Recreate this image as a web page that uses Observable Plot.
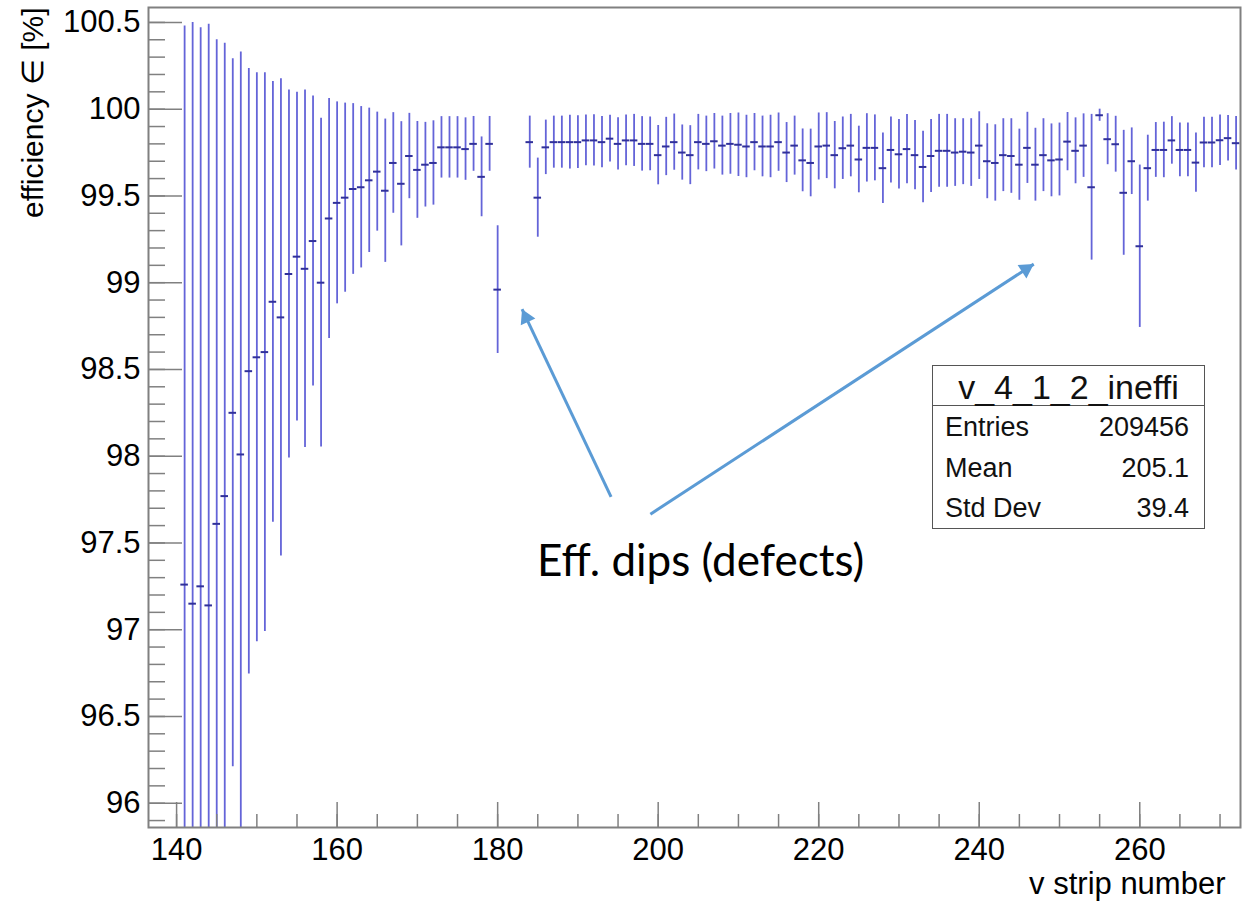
<!DOCTYPE html>
<html><head><meta charset="utf-8">
<script src="https://cdn.jsdelivr.net/npm/d3@7"></script>
<script src="https://cdn.jsdelivr.net/npm/@observablehq/plot@0.6"></script>
<style>
body{margin:0;background:#fff;}
#wrap{position:relative;width:1255px;height:907px;overflow:hidden;background:#fff;}
#stats{position:absolute;left:932px;top:365px;width:273px;height:164px;box-sizing:border-box;border:1.5px solid #555;background:#fff;font-family:"Liberation Sans",Arial,sans-serif;color:#111;}
#stats .hdr{position:absolute;left:0;right:0;top:0;height:39px;border-bottom:1.5px solid #555;text-align:center;font-size:34px;line-height:34px;}
#stats .hdr span{position:relative;top:4px;}
#stats .row{position:absolute;left:12px;right:15px;font-size:27px;line-height:27px;display:flex;justify-content:space-between;}
</style></head>
<body><div id="wrap"></div>
<script>
// ---- data ----
const strips = [141,142,143,144,145,146,147,148,149,150,151,152,153,154,155,156,157,158,159,160,
161,162,163,164,165,166,167,168,169,170,171,172,173,174,175,176,177,178,179,180,
184,185,186,187,188,189,190,191,192,193,194,195,196,197,198,199,200,
201,202,203,204,205,206,207,208,209,210,211,212,213,214,215,216,217,218,219,220,
221,222,223,224,225,226,227,228,229,230,231,232,233,234,235,236,237,238,239,240,
241,242,243,244,245,246,247,248,249,250,251,252,253,254,255,256,257,258,259,260,
261,262,263,264,265,266,267,268,269,270,271,272];
const efficiency = [97.26,97.15,97.25,97.14,97.61,97.77,98.25,98.01,98.49,98.57,
98.60,98.89,98.80,99.05,99.15,99.08,99.24,99.00,99.37,99.46,
99.49,99.54,99.55,99.59,99.64,99.53,99.69,99.57,99.73,99.65,
99.68,99.69,99.78,99.78,99.78,99.77,99.80,99.61,99.80,98.96,
99.81,99.49,99.78,99.81,99.81,99.81,99.81,
99.82,99.82,99.81,99.83,99.80,99.82,99.82,99.80,99.80,99.735,
99.785,99.81,99.75,99.735,99.81,99.80,99.815,99.79,99.80,99.795,
99.785,99.81,99.785,99.785,99.81,99.75,99.79,99.705,99.69,99.785,
99.79,99.735,99.775,99.79,99.71,99.777,99.777,99.66,99.765,99.74,
99.77,99.735,99.667,99.73,99.76,99.76,99.75,99.755,99.75,99.79,
99.70,99.69,99.735,99.73,99.68,99.777,99.68,99.735,99.705,99.71,
99.813,99.76,99.79,99.55,99.965,99.827,99.798,99.518,99.70,99.21,
99.66,99.765,99.765,99.82,99.765,99.765,99.692,99.808,99.808,99.821,99.833,99.804];
const errors = [3.22,3.35,3.22,3.35,2.79,2.61,2.04,2.32,1.745,1.64,
1.61,1.27,1.375,1.06,0.947,1.03,0.836,0.947,0.692,0.582,
0.545,0.492,0.465,0.416,0.343,0.413,0.29,0.358,0.246,0.279,
0.244,0.243,0.177,0.177,0.177,0.18,0.158,0.23,0.158,0.368,
0.15,0.228,0.157,0.15,0.15,0.155,0.152,
0.146,0.148,0.148,0.135,0.15,0.146,0.15,0.157,0.155,0.171,
0.168,0.162,0.159,0.17,0.16,0.16,0.16,0.17,0.175,0.183,
0.18,0.165,0.175,0.18,0.168,0.173,0.17,0.181,0.195,0.193,
0.19,0.194,0.18,0.18,0.192,0.197,0.19,0.203,0.19,0.2,
0.2,0.2,0.206,0.21,0.21,0.21,0.195,0.19,0.195,0.195,
0.216,0.22,0.21,0.215,0.205,0.205,0.21,0.21,0.21,0.21,
0.168,0.19,0.183,0.42,0.035,0.147,0.161,0.36,0.192,0.468,
0.19,0.158,0.16,0.137,0.155,0.155,0.171,0.146,0.146,0.146,0.131,0.154];
const xTickLabels = [140,160,180,200,220,240,260];
const yTickLabels = [96,96.5,97,97.5,98,98.5,99,99.5,100,100.5];
const histName = "v_4_1_2_ineffi";
const statNames = ["Entries","Mean","Std Dev"];
const statValues = ["209456","205.1","39.4"];
const noteText = ["Eff. dips (defects)"];

// ---- annotation geometry (data units) ----
const notePos = [{x:184.9, y:97.31}];
const arrows = [
  {x1:194.13, y1:97.765, x2:183.04, y2:98.847},
  {x1:199.03, y1:97.666, x2:246.79, y2:99.107}
];

const rows = strips.map((s,i)=>({strip:s, eff:efficiency[i], err:errors[i]}));
const yMinor = d3.range(959,1006).map(d=>d/10);
const xMinor = d3.range(140,272,5);
const gray = "#808080";
const blue = "#5b9bd5";

const plot = Plot.plot({
  width:1255, height:907,
  marginLeft:148, marginRight:15, marginTop:7, marginBottom:80,
  style:{fontFamily:'"Liberation Sans", Arial, sans-serif', fontSize:"31px", color:"#000", background:"#fff"},
  x:{domain:[136.5,272.55]},
  y:{domain:[95.86,100.586]},
  marks:[
    Plot.ruleX(rows,{x:"strip", y1:d=>d.eff-d.err, y2:d=>d.eff+d.err, stroke:"#6464d8", strokeWidth:1.8, clip:true}),
    Plot.ruleY(rows,{y:"eff", x1:d=>d.strip-0.47, x2:d=>d.strip+0.47, stroke:"#30309a", strokeWidth:2, clip:true}),
    Plot.axisY({ticks:yMinor, tickSize:-17, fill:"none", stroke:gray, strokeWidth:1.5, label:null}),
    Plot.axisY({ticks:yTickLabels, tickSize:-34, fill:"none", stroke:gray, strokeWidth:1.5, label:null}),
    Plot.axisY({ticks:yTickLabels, tickSize:0, tickPadding:8, tickFormat:d=>String(d), label:null}),
    Plot.axisX({ticks:xMinor, tickSize:-13, fill:"none", stroke:gray, strokeWidth:1.5, label:null}),
    Plot.axisX({ticks:xTickLabels, tickSize:-25, fill:"none", stroke:gray, strokeWidth:1.5, label:null}),
    Plot.axisX({ticks:xTickLabels, tickSize:0, tickPadding:10, tickFormat:d=>String(d), label:null}),
    Plot.frame({stroke:gray, strokeWidth:2}),
    Plot.text(["efficiency \u2208 [%]"],{frameAnchor:"top-left", rotate:-90, textAnchor:"end", lineAnchor:"middle", dx:-115, dy:0, fontSize:30}),
    Plot.text(["v strip number"],{frameAnchor:"bottom-right", textAnchor:"end", lineAnchor:"bottom", dx:-15, dy:66, fontSize:31}),
    Plot.link(arrows,{x1:"x1", y1:"y1", x2:"x2", y2:"y2", stroke:blue, strokeWidth:3}),
    Plot.dot([arrows[0]],{x:"x2", y:"y2", symbol:"triangle", r:6, fill:blue, rotate:-25.4, dx:4.0, dy:8.4}),
    Plot.dot([arrows[1]],{x:"x2", y:"y2", symbol:"triangle", r:6, fill:blue, rotate:56.9, dx:-7.8, dy:5.1}),
    Plot.text(notePos,{x:"x", y:"y", text:()=>noteText[0], fontFamily:"Lato", fontSize:44, textAnchor:"start", lineAnchor:"bottom", fill:"#000"})
  ]
});
const wrap = document.getElementById("wrap");
wrap.appendChild(plot);

const box = document.createElement("div");
box.id = "stats";
box.innerHTML = `<div class="hdr"><span>${histName}</span></div>` +
  statNames.map((n,i)=>`<div class="row" style="top:${48+i*40.5}px"><span>${n}</span><span>${statValues[i]}</span></div>`).join("");
wrap.appendChild(box);
</script>
</body></html>
